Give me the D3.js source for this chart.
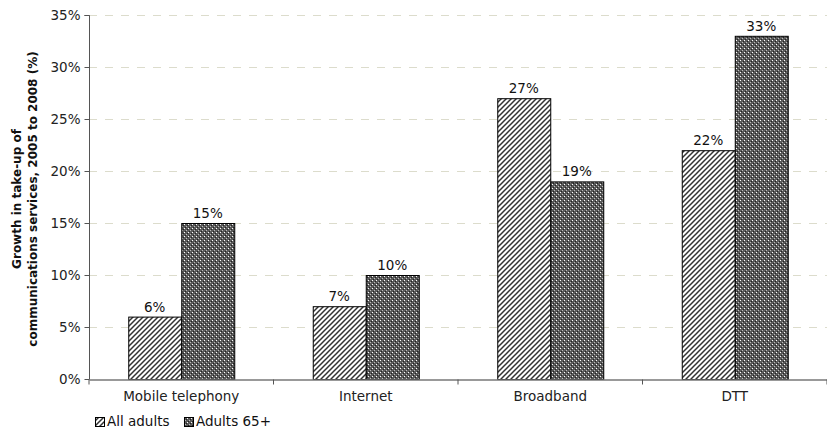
<!DOCTYPE html>
<html><head><meta charset="utf-8">
<script src="https://cdn.jsdelivr.net/npm/d3@7"></script>
<style>body{margin:0;background:#fff}svg{display:block}text{font-family:"DejaVu Sans",Verdana,sans-serif}</style>
</head><body><svg id="c" width="827" height="428"></svg>
<script>
const categories = ["Mobile telephony", "Internet", "Broadband", "DTT"];
const seriesNames = ["All adults", "Adults 65+"];
const allAdults = [6, 7, 27, 22];
const adults65 = [15, 10, 19, 33];
const yTicks = [0, 5, 10, 15, 20, 25, 30, 35];

const svg = d3.select("#c");
const m = {l: 89, r: 0, t: 15, b: 49};
const W = 827, H = 428;
const FS = 13.5;
const defs = svg.append("defs");
const p1 = defs.append("pattern").attr("id","stripe").attr("patternUnits","userSpaceOnUse").attr("width",5).attr("height",5);
p1.append("rect").attr("width",5).attr("height",5).attr("fill","#fff");
p1.append("path").attr("d","M-1,6 L6,-1 M-3.5,3.5 L3.5,-3.5 M1.5,8.5 L8.5,1.5").attr("stroke","#333").attr("stroke-width",1.5);
const p2 = defs.append("pattern").attr("id","check").attr("patternUnits","userSpaceOnUse").attr("width",4).attr("height",4);
p2.append("rect").attr("width",4).attr("height",4).attr("fill","#5a5a5a");
p2.append("rect").attr("x",0).attr("y",0).attr("width",1).attr("height",1).attr("fill","#fff");
p2.append("rect").attr("x",2).attr("y",2).attr("width",1).attr("height",1).attr("fill","#bbb");
p2.append("rect").attr("x",1).attr("y",3).attr("width",1).attr("height",1).attr("fill","#222");
p2.append("rect").attr("x",3).attr("y",1).attr("width",1).attr("height",1).attr("fill","#222");

const x = d3.scaleBand().domain(categories).range([m.l, W - m.r]);
const y = d3.scaleLinear().domain([0, 35]).range([H - m.b, m.t]);
const bw = 53;

// grid
svg.append("g").selectAll("line").data(yTicks.filter(d=>d>0)).join("line")
  .attr("x1", m.l).attr("x2", W).attr("y1", d=>y(d)+0.5).attr("y2", d=>y(d)+0.5)
  .attr("stroke","#dcdccc").attr("stroke-dasharray","8,8");

const series = [allAdults, adults65];
const fills = ["url(#stripe)", "url(#check)"];
series.forEach((vals, si) => {
  const g = svg.append("g");
  g.selectAll("rect").data(vals).join("rect")
    .attr("x", (d,i) => x(categories[i]) + x.bandwidth()/2 - bw + si*bw + 0.5)
    .attr("y", d => y(d) + 0.5)
    .attr("width", bw).attr("height", d => y(0) - y(d))
    .attr("fill", fills[si]).attr("stroke","#000").attr("stroke-width",1);
  g.selectAll("text").data(vals).join("text")
    .attr("x", (d,i) => x(categories[i]) + x.bandwidth()/2 - bw/2 + si*bw)
    .attr("y", d => y(d) - 5)
    .attr("text-anchor","middle").attr("font-size",FS).attr("fill","#111")
    .text(d => d + "%");
});

// y axis
const ya = svg.append("g").attr("transform",`translate(${m.l+0.5},0)`)
  .call(d3.axisLeft(y).tickValues(yTicks).tickSize(5).tickFormat(d=>d+"%"));
ya.select(".domain").attr("stroke","#555").attr("d",`M-5,${y(35)+0.5}H0V${y(0)+0.5}`);
ya.selectAll(".tick line").attr("stroke","#555");
ya.selectAll(".tick text").attr("font-size",FS).attr("fill","#222").attr("font-family","DejaVu Sans, Verdana, sans-serif").attr("x",-9);

// x axis
const xa = svg.append("g").attr("transform",`translate(0,${y(0)+0.5})`)
  .call(d3.axisBottom(x).tickSize(0));
xa.select(".domain").attr("stroke","#777").attr("stroke-width",1.5);
xa.selectAll(".tick text").attr("font-size",FS).attr("fill","#222").attr("font-family","DejaVu Sans, Verdana, sans-serif").attr("y",12).attr("dy","0.71em");
xa.selectAll(".sep").data(d3.range(categories.length+1)).join("line").attr("class","sep")
  .attr("x1", i => m.l + i*x.step()).attr("x2", i => m.l + i*x.step()).attr("y1",0).attr("y2",5).attr("stroke","#555");

// y label
const yl = svg.append("text").attr("transform",`translate(29,${(m.t + H - m.b)/2 + 2}) rotate(-90)`)
  .attr("text-anchor","middle").attr("font-size",12).attr("font-weight","bold").attr("fill","#111");
yl.append("tspan").attr("x",0).attr("dy",-8).text("Growth in take-up of");
yl.append("tspan").attr("x",0).attr("dy",16).text("communications services, 2005 to 2008 (%)");

// legend
const lg = svg.append("g").attr("transform","translate(95,426)");
const lx = [0, 89];
seriesNames.forEach((n,i)=>{
  lg.append("rect").attr("x",lx[i]+0.5).attr("y",-8.5).attr("width",9).attr("height",9).attr("fill",fills[i]).attr("stroke","#000");
  lg.append("text").attr("x",lx[i]+12).attr("y",0).attr("font-size",FS).attr("fill","#111").text(n);
});
</script></body></html>
